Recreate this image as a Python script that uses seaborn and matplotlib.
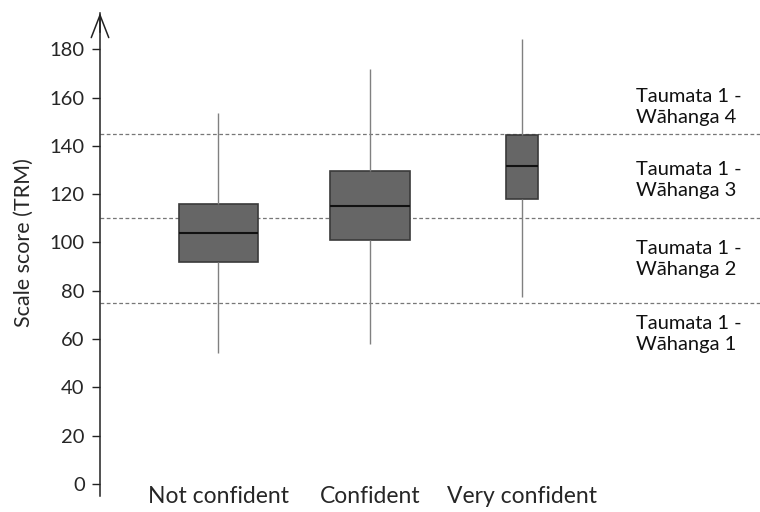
import numpy as np
import pandas as pd
import matplotlib
matplotlib.use("Agg")
import matplotlib.pyplot as plt
import seaborn as sns

categories = ["Not confident", "Confident", "Very confident"]
# five-number summaries: whisker low, Q1, median, Q3, whisker high
not_confident = [54.3, 91.7, 104.0, 116.1, 153.5]
confident = [58.1, 100.8, 114.9, 129.4, 171.7]
very_confident = [77.6, 117.8, 131.5, 144.3, 184.2]
box_widths = [0.52, 0.53, 0.21]
cut_points = [75, 110, 145]
band_labels = ["Taumata 1 -\nWāhanga 1", "Taumata 1 -\nWāhanga 2",
               "Taumata 1 -\nWāhanga 3", "Taumata 1 -\nWāhanga 4"]
band_label_y = [62, 93, 126, 156]
yticks = [0, 20, 40, 60, 80, 100, 120, 140, 160, 180]

sns.set_style("white")
plt.rcParams['font.family'] = ['Lato', 'DejaVu Sans']

df = pd.DataFrame({
    "group": np.repeat(categories, 5),
    "score": not_confident + confident + very_confident,
})

fig = plt.figure(figsize=(7.6, 5.12), dpi=100)
ax = fig.add_axes([100/760, 16/512, 1 - 100/760, (496-13)/512])

for cat, w in zip(categories, box_widths):
    sub = df[df["group"] == cat]
    sns.boxplot(data=sub, x="group", y="score", order=categories, width=w,
                whis=(0, 100), showcaps=False, showfliers=False,
                color="#666666", saturation=1, ax=ax,
                boxprops=dict(facecolor="#666666", edgecolor="#3a3a3a", linewidth=1.2),
                medianprops=dict(color="#111111", linewidth=1.5),
                whiskerprops=dict(color="#808080", linewidth=1.0))

for c in cut_points:
    ax.axhline(c, color="#777777", linewidth=0.9, linestyle=(0, (3, 2)), zorder=0)

for lab, yy in zip(band_labels, band_label_y):
    ax.text(2.755, yy, lab, ha="left", va="center", fontsize=14.5,
            color="#111111", linespacing=1.3)

ax.set_xlim(-0.78, 3.57)
ax.set_ylim(-5, 195)
ax.set_yticks(yticks)
ax.set_yticklabels([str(t) for t in yticks], fontsize=14.5)
ax.tick_params(axis="y", left=True, length=6, width=1, color="#222222", pad=5)
ax.tick_params(axis="x", bottom=False, length=0, pad=-7, labelsize=16.5)
ax.set_xlabel("")
ax.set_ylabel("Scale score (TRM)", fontsize=15.5)
ax.yaxis.set_label_coords(-0.10, 0.525)

for s in ["top", "right", "bottom"]:
    ax.spines[s].set_visible(False)
ax.spines["left"].set_color("#222222")
ax.spines["left"].set_linewidth(1.1)

ax.annotate("", xy=(0, 1.0), xytext=(0, 0.96), xycoords="axes fraction",
            arrowprops=dict(arrowstyle="->,head_length=0.9,head_width=0.35",
                            color="#222222", lw=1.1, mutation_scale=18,
                            shrinkA=0, shrinkB=0))

fig.savefig("out.png", dpi=100)
